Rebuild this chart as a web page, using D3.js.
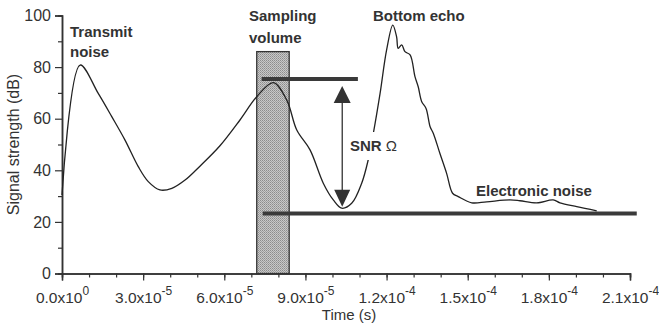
<!DOCTYPE html>
<html>
<head>
<meta charset="utf-8">
<script src="https://cdn.jsdelivr.net/npm/d3@7"></script>
<style>
  body { margin: 0; background: #fff; }
  svg { display: block; font-family: "Liberation Sans", Arial, sans-serif; }
  .lbl { font-size: 15px; font-weight: bold; fill: #333; }
</style>
</head>
<body>
<div id="chart"></div>
<script>
// Echo trace: time (µs) vs signal strength (dB)
const timeUs = [0, 6.7, 13.4, 18.4, 23.3, 28.2, 31.9, 36.2, 40.6, 45.5, 51.0, 58.4, 65.8, 72.0, 78.1,
  83.1, 86.8, 91.7, 96.6, 100.3, 103.4, 107.1, 110.8, 113.2, 115.1, 117.6, 120.0, 122.3, 123.7,
  124.3, 125.6, 126.8, 128.7, 130.5, 131.7, 133.0, 134.6, 136.1, 137.3, 139.7, 142.2, 144.4,
  146.5, 151.5, 157.0, 165.6, 169.3, 175.5, 181.6, 184.1, 190.3, 197.7];
const signalDb = [30.4, 80.8, 69.8, 60.8, 51.7, 41.4, 35.6, 32.4, 33.0, 36.2, 41.6, 49.5, 59.5, 68.5, 74.0,
  67.2, 55.6, 47.9, 35.0, 28.5, 25.3, 27.2, 35.0, 44.0, 54.3, 69.8, 86.6, 96.3, 91.8,
  87.3, 88.6, 86.0, 84.7, 76.3, 72.4, 66.6, 64.0, 56.9, 54.3, 46.6, 38.8, 31.1,
  29.8, 27.4, 27.8, 28.5, 28.2, 27.4, 28.5, 27.4, 25.9, 24.3];

// Sampling volume band [start, end] in s and its top in dB
const samplingVolume = [7.2e-5, 8.4e-5];
const samplingTop = 86;
// Reference levels: [x0, x1, dB]
const peakLevel = [7.38e-5, 1.094e-4, 75.4];
const noiseLevel = [7.42e-5, 2.125e-4, 23.3];
// SNR arrow: time, from dB, to dB
const snrArrow = [1.036e-4, 72.7, 25.9];

const xTicks = [0, 3e-5, 6e-5, 9e-5, 1.2e-4, 1.5e-4, 1.8e-4, 2.1e-4];
const xTickLabels = [["0.0", "0"], ["3.0", "-5"], ["6.0", "-5"], ["9.0", "-5"],
  ["1.2", "-4"], ["1.5", "-4"], ["1.8", "-4"], ["2.1", "-4"]];
const xMinorTicks = d3.range(0, 22).map(i => i * 1e-5);
const yTicks = [0, 20, 40, 60, 80, 100];
const yMinorTicks = [10, 30, 50, 70, 90];

const W = 659, H = 327;
const svg = d3.select('#chart').append('svg').attr('width', W).attr('height', H);

const x = d3.scaleLinear().domain([0, 2.1e-4]).range([62, 630]);
const y = d3.scaleLinear().domain([0, 100]).range([273.5, 15.5]);

// stippled grey fill for the sampling volume
const defs = svg.append('defs');
const pat = defs.append('pattern').attr('id', 'stipple').attr('width', 2).attr('height', 2)
  .attr('patternUnits', 'userSpaceOnUse');
pat.append('rect').attr('width', 2).attr('height', 2).attr('fill', '#c8c8c8');
pat.append('rect').attr('width', 1).attr('height', 1).attr('fill', '#8c8c8c');
pat.append('rect').attr('x', 1).attr('y', 1).attr('width', 1).attr('height', 1).attr('fill', '#a0a0a0');

svg.append('rect')
  .attr('x', x(samplingVolume[0])).attr('y', y(samplingTop))
  .attr('width', x(samplingVolume[1]) - x(samplingVolume[0]))
  .attr('height', y(0) - y(samplingTop))
  .attr('fill', 'url(#stipple)').attr('stroke', '#333').attr('stroke-width', 1.3);

// axes
const xMinor = svg.append('g').attr('transform', `translate(0,${y(0)})`)
  .call(d3.axisBottom(x).tickValues(xMinorTicks).tickSize(4).tickFormat(''));
const xAxis = svg.append('g').attr('transform', `translate(0,${y(0)})`)
  .call(d3.axisBottom(x).tickValues(xTicks).tickSize(7).tickPadding(0).tickFormat(''));
const yMinor = svg.append('g').attr('transform', `translate(${x(0)},0)`)
  .call(d3.axisLeft(y).tickValues(yMinorTicks).tickSize(4).tickFormat(''));
const yAxis = svg.append('g').attr('transform', `translate(${x(0)},0)`)
  .call(d3.axisLeft(y).tickValues(yTicks).tickSize(7).tickPadding(4));

[xMinor, xAxis, yMinor, yAxis].forEach(a => {
  a.attr('font-family', null).attr('font-size', null);
  a.select('.domain').attr('stroke', '#333').attr('stroke-width', 1.5);
  a.selectAll('.tick line').attr('stroke', '#333').attr('stroke-width', 1.2);
});
yAxis.selectAll('.tick text').attr('fill', '#333').attr('font-size', 16);

// x labels: "m.mx10" with superscript exponent, baseline ~29px under the axis
xAxis.selectAll('.tick text').each(function (d, i) {
  const t = d3.select(this).attr('fill', '#333').attr('font-size', 15.5)
    .attr('y', 29).attr('dy', null);
  const [m, e] = xTickLabels[i];
  t.text(null);
  t.append('tspan').text(`${m}x10`);
  t.append('tspan').attr('font-size', 12).attr('dy', '-0.6em').text(e);
});

svg.append('text').attr('x', 349).attr('y', 320).attr('fill', '#333').attr('font-size', 15)
  .attr('text-anchor', 'middle').text('Time (s)');
svg.append('text').attr('fill', '#333').attr('font-size', 16)
  .attr('transform', `translate(19,${(y(0) + y(100)) / 2}) rotate(-90)`)
  .attr('text-anchor', 'middle').text('Signal strength (dB)');

// reference levels
[peakLevel, noiseLevel].forEach(l => {
  svg.append('line')
    .attr('x1', x(l[0])).attr('x2', x(l[1]))
    .attr('y1', y(l[2])).attr('y2', y(l[2]))
    .attr('stroke', '#3a3a3a').attr('stroke-width', 4);
});

// echo curve
const line = d3.line()
  .x((d, i) => x(timeUs[i] * 1e-6))
  .y(d => y(d))
  .curve(d3.curveCatmullRom.alpha(0.5));
svg.append('path').datum(signalDb)
  .attr('d', line).attr('fill', 'none').attr('stroke', '#222').attr('stroke-width', 1.3);

// SNR arrow
const ax = x(snrArrow[0]), ayTop = y(snrArrow[1]), ayBot = y(snrArrow[2]);
svg.append('line').attr('x1', ax).attr('x2', ax).attr('y1', ayTop + 10).attr('y2', ayBot - 10)
  .attr('stroke', '#222').attr('stroke-width', 1.2);
svg.append('path').attr('d', `M${ax},${ayTop} L${ax - 8.5},${ayTop + 17} L${ax + 8.5},${ayTop + 17} Z`)
  .attr('fill', '#333');
svg.append('path').attr('d', `M${ax},${ayBot} L${ax - 8},${ayBot - 17} L${ax + 8},${ayBot - 17} Z`)
  .attr('fill', '#333');

// labels
svg.append('rect').attr('x', 347).attr('y', 132).attr('width', 52).attr('height', 28).attr('fill', '#fff');
const snr = svg.append('text').attr('class', 'lbl').attr('x', 350).attr('y', 151);
snr.append('tspan').text('SNR ');
snr.append('tspan').style('font-weight', 'normal').text('Ω');

const labels = [
  ['Transmit', 70, 37], ['noise', 70, 57],
  ['Sampling', 249, 21], ['volume', 249, 43],
  ['Bottom echo', 373, 21],
  ['Electronic noise', 476, 196]
];
labels.forEach(([t, lx, ly]) => {
  svg.append('text').attr('class', 'lbl').attr('x', lx).attr('y', ly).text(t);
});
</script>
</body>
</html>
